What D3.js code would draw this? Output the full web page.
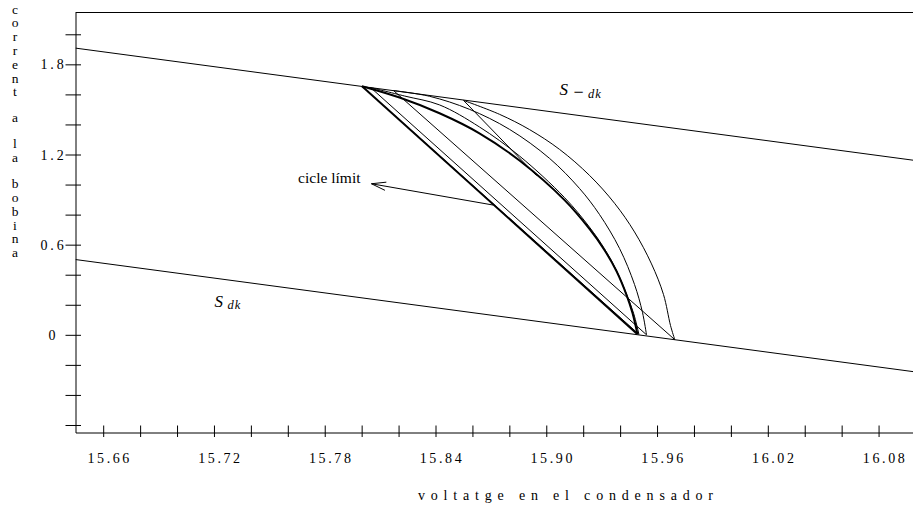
<!DOCTYPE html>
<html>
<head>
<meta charset="utf-8">
<script src="https://cdn.jsdelivr.net/npm/d3@7"></script>
<style>
  html, body { margin: 0; padding: 0; background: #fff; }
  svg { display: block; }
  svg text { font-family: "Liberation Serif", "DejaVu Serif", serif; fill: #000; }
</style>
</head>
<body>
<svg id="chart" width="913" height="507"></svg>
<script>
// ---- axis ticks and labels ----
const voltageTicks = [15.66, 15.68, 15.70, 15.72, 15.74, 15.76, 15.78, 15.80, 15.82, 15.84, 15.86,
                      15.88, 15.90, 15.92, 15.94, 15.96, 15.98, 16.00, 16.02, 16.04, 16.06, 16.08];
const voltageLabels = ["15.66", "15.72", "15.78", "15.84", "15.90", "15.96", "16.02", "16.08"];
const currentTicks = [-0.6, -0.4, -0.2, 0, 0.2, 0.4, 0.6, 0.8, 1.0, 1.2, 1.4, 1.6, 1.8, 2.0];
const currentLabels = ["0", "0.6", "1.2", "1.8"];

// ---- switching surfaces [voltage, current] ----
const surfaceMinus = [[15.645, 1.908], [16.1, 1.160]];   // S_-dk
const surfacePlus  = [[15.645, 0.501], [16.1, -0.247]];  // S_dk

// ---- trajectory, in the order it is travelled ----
const startSegment = [[15.8947, 1.060], [15.8552, 1.560]];
const arcOuter = [
  [15.8552, 1.560], [15.8747, 1.4673], [15.8909, 1.366], [15.9072, 1.234], [15.9234, 1.0613],
  [15.9370, 0.8753], [15.9478, 0.6847], [15.9570, 0.472], [15.9635, 0.268], [15.9673, 0.062],
  [15.9696, -0.032]
];
const chordOuter = [[15.9696, -0.032], [15.8173, 1.6253]];
const arcMiddle = [
  [15.8173, 1.6253], [15.8368, 1.5873], [15.8584, 1.5007], [15.8801, 1.3673], [15.9018, 1.174],
  [15.9180, 0.974], [15.9288, 0.8013], [15.9397, 0.5747], [15.9478, 0.3353], [15.9521, 0.150],
  [15.9543, 0.000]
];
const chordMiddle = [[15.9543, 0.000], [15.8048, 1.646]];
const arcInner = [
  [15.8048, 1.646], [15.8232, 1.5893], [15.8422, 1.530], [15.8638, 1.3833], [15.8855, 1.190],
  [15.9099, 0.9133], [15.9234, 0.7167], [15.9315, 0.5733], [15.9380, 0.430], [15.9435, 0.270],
  [15.9473, 0.1433], [15.9502, 0.0033]
];
const chordInner = [[15.9502, 0.0033], [15.8002, 1.6547]];

// ---- limit cycle ----
const limitArc = [
  [15.8002, 1.6547], [15.8205, 1.5793], [15.8422, 1.4747], [15.8638, 1.3413], [15.8855, 1.160],
  [15.9099, 0.8967], [15.9234, 0.7047], [15.9315, 0.5647], [15.9380, 0.4247], [15.9435, 0.2647],
  [15.9467, 0.1447], [15.9494, 0.0033]
];
const limitChord = [[15.9494, 0.0033], [15.8002, 1.6547]];

// ---- annotations ----
const noteArrow = [[15.8714, 0.8633], [15.8053, 1.0053]];   // tail, head
const noteText = [15.7994, 1.008];
const labelMinus = [15.9072, 1.5967];
const labelPlus = [15.7203, 0.1867];

// ---------------------------------------------------------------
const FONT = '"Liberation Serif", "DejaVu Serif", serif';
const svg = d3.select("#chart").attr("font-family", FONT);
const x = d3.scaleLinear().domain([15.645, 16.1]).range([75.5, 915.5]);
const y = d3.scaleLinear().domain([-0.65, 2.145]).range([432.5, 12.5]);

const line = d3.line().x(d => x(d[0])).y(d => y(d[1]));
const curve = d3.line().x(d => x(d[0])).y(d => y(d[1])).curve(d3.curveCatmullRom.alpha(0.5));

// frame top edge
svg.append("line")
  .attr("x1", x.range()[0]).attr("x2", x.range()[1])
  .attr("y1", y.range()[1]).attr("y2", y.range()[1])
  .attr("stroke", "#000").attr("stroke-width", 1);

// bottom axis
const gx = svg.append("g")
  .attr("transform", `translate(0,${y.range()[0]})`)
  .call(d3.axisBottom(x)
    .tickValues(voltageTicks)
    .tickSizeOuter(0)
    .tickFormat(d => { const s = d3.format(".2f")(d); return voltageLabels.includes(s) ? s : ""; }));
gx.attr("font-family", FONT).attr("font-size", 14);
gx.select(".domain").attr("stroke", "#000");
gx.selectAll(".tick line").attr("y1", -7).attr("y2", 4.5).attr("stroke", "#000");
gx.selectAll(".tick text")
  .attr("y", 30.2).attr("dy", null).attr("dx", 6)
  .attr("font-family", FONT)
  .attr("font-size", 14).attr("letter-spacing", 2.6)
  .attr("fill", "#000");

// left axis
const gy = svg.append("g")
  .attr("transform", `translate(${x.range()[0]},0)`)
  .call(d3.axisLeft(y)
    .tickValues(currentTicks)
    .tickSizeOuter(0)
    .tickFormat(d => {
      const s = Math.abs(d) < 1e-9 ? "0" : d3.format(".1f")(d);
      return currentLabels.includes(s) ? s : "";
    }));
gy.attr("font-family", FONT).attr("font-size", 14);
gy.select(".domain").attr("stroke", "#000");
gy.selectAll(".tick line").attr("x1", 5.5).attr("x2", -10).attr("stroke", "#000");
gy.selectAll(".tick text")
  .attr("x", -22).attr("dy", "0.33em")
  .attr("text-anchor", "middle")
  .attr("font-family", FONT)
  .attr("font-size", 14).attr("letter-spacing", 2.8)
  .attr("fill", "#000");

// axis titles
svg.append("text")
  .attr("x", 418).attr("y", 499.5)
  .attr("font-size", 14)
  .attr("textLength", 295).attr("lengthAdjust", "spacing")
  .text("voltatge en el condensador");

const yTitle = "corrent a la bobina";
let baseY = 13.5;
for (const ch of yTitle) {
  if (ch === " ") { baseY += 12.2; continue; }
  svg.append("text")
    .attr("x", 15).attr("y", baseY)
    .attr("text-anchor", "middle")
    .attr("font-size", 13.5)
    .text(ch);
  baseY += 13.8;
}

// plot contents, clipped to the frame
svg.append("clipPath").attr("id", "plotClip")
  .append("rect")
  .attr("x", x.range()[0]).attr("y", y.range()[1])
  .attr("width", x.range()[1] - x.range()[0])
  .attr("height", y.range()[0] - y.range()[1]);
const plot = svg.append("g").attr("clip-path", "url(#plotClip)")
  .attr("fill", "none").attr("stroke", "#000");

[surfaceMinus, surfacePlus].forEach(s =>
  plot.append("path").attr("d", line(s)).attr("stroke-width", 1));

[startSegment, chordOuter, chordMiddle, chordInner].forEach(s =>
  plot.append("path").attr("d", line(s)).attr("stroke-width", 1));
[arcOuter, arcMiddle, arcInner].forEach(s =>
  plot.append("path").attr("d", curve(s)).attr("stroke-width", 1));

plot.append("path").attr("d", curve(limitArc)).attr("stroke-width", 2);
plot.append("path").attr("d", line(limitChord)).attr("stroke-width", 2);

// arrow pointing to the limit cycle
const [tail, head] = noteArrow.map(p => [x(p[0]), y(p[1])]);
const ang = Math.atan2(tail[1] - head[1], tail[0] - head[0]);
const barb = 15, spread = 0.28;
plot.append("path")
  .attr("d", `M${tail[0]},${tail[1]}L${head[0]},${head[1]}`)
  .attr("stroke-width", 1);
plot.append("path")
  .attr("d", `M${head[0] + barb * Math.cos(ang - spread)},${head[1] + barb * Math.sin(ang - spread)}` +
             `L${head[0]},${head[1]}` +
             `L${head[0] + barb * Math.cos(ang + spread)},${head[1] + barb * Math.sin(ang + spread)}`)
  .attr("stroke-width", 1);

svg.append("text")
  .attr("x", x(noteText[0])).attr("y", y(noteText[1]))
  .attr("text-anchor", "end")
  .attr("font-size", 15.5)
  .text("cicle límit");

// surface labels
const gm = svg.append("g").attr("transform", `translate(${x(labelMinus[0])},${y(labelMinus[1])})`);
gm.append("text").attr("font-size", 17).attr("font-style", "italic").text("S");
gm.append("text").attr("x", 14).attr("y", 3).attr("font-size", 18).text("−");
gm.append("text").attr("x", 28.5).attr("y", 3).attr("font-size", 12.5)
  .attr("font-style", "italic").attr("letter-spacing", 1).text("dk");

const gp = svg.append("g").attr("transform", `translate(${x(labelPlus[0])},${y(labelPlus[1])})`);
gp.append("text").attr("font-size", 17).attr("font-style", "italic").text("S");
gp.append("text").attr("x", 13).attr("y", 2.5).attr("font-size", 12.5)
  .attr("font-style", "italic").attr("letter-spacing", 1).text("dk");
</script>
</body>
</html>
